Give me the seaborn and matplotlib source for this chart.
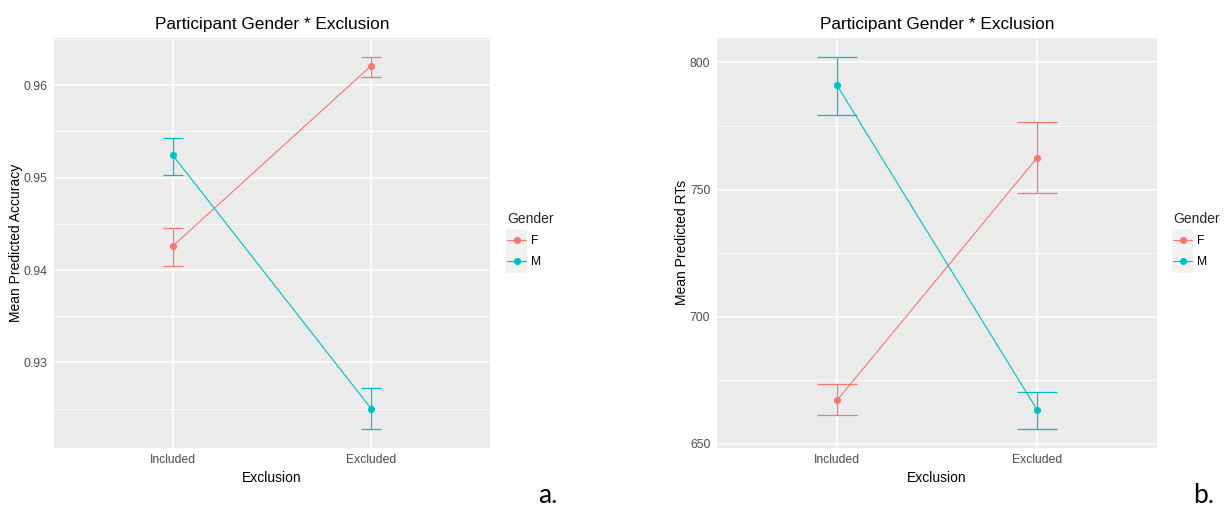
import numpy as np
import pandas as pd
import matplotlib
matplotlib.use("Agg")
import matplotlib.pyplot as plt
from matplotlib.patches import Rectangle
from matplotlib.ticker import FixedLocator
import seaborn as sns

# ---- data ---------------------------------------------------------------
conditions = ["Included", "Excluded"]
genders = ["F", "M"]

acc_F = [0.9426, 0.9621]
acc_F_lo = [0.9404, 0.9609]
acc_F_hi = [0.9446, 0.9631]
acc_M = [0.9524, 0.9250]
acc_M_lo = [0.9503, 0.9228]
acc_M_hi = [0.9543, 0.9272]

rt_F = [667.1, 762.5]
rt_F_lo = [661.2, 748.7]
rt_F_hi = [673.5, 776.5]
rt_M = [791.0, 663.5]
rt_M_lo = [779.2, 655.9]
rt_M_hi = [802.3, 670.6]

acc_ticks = [0.93, 0.94, 0.95, 0.96]
rt_ticks = [650, 700, 750, 800]

title = "Participant Gender * Exclusion"
palette = {"F": "#F8766D", "M": "#00BFC4"}


def frame(f, f_lo, f_hi, m, m_lo, m_hi):
    return pd.DataFrame({
        "Exclusion": conditions * 2,
        "Gender": ["F"] * 2 + ["M"] * 2,
        "value": f + m,
        "lo": f_lo + m_lo,
        "hi": f_hi + m_hi,
    })


acc_df = frame(acc_F, acc_F_lo, acc_F_hi, acc_M, acc_M_lo, acc_M_hi)
rt_df = frame(rt_F, rt_F_lo, rt_F_hi, rt_M, rt_M_lo, rt_M_hi)

# ---- style --------------------------------------------------------------
sns.set_theme(style="darkgrid")
plt.rcParams["font.family"] = ["Liberation Sans", "DejaVu Sans"]
plt.rcParams["axes.facecolor"] = "#EBEBEB"
plt.rcParams["figure.facecolor"] = "white"

W, H = 1224, 511
fig = plt.figure(figsize=(W / 100, H / 100), dpi=100)


def px_axes(x0, x1, y0, y1):
    return fig.add_axes([x0 / W, 1 - y1 / H, (x1 - x0) / W, (y1 - y0) / H])


def draw(ax, df, ylabel, yticks, cap):
    sns.pointplot(data=df, x="Exclusion", y="value", hue="Gender",
                  order=conditions, hue_order=genders, palette=palette,
                  errorbar=None, markers="o", markersize=4.5, linewidth=0.8,
                  ax=ax, legend=True, zorder=3)
    for g in genders:
        sub = df[df["Gender"] == g].set_index("Exclusion").loc[conditions]
        xs = np.arange(len(conditions))
        ax.errorbar(xs, sub["value"],
                    yerr=[sub["value"] - sub["lo"], sub["hi"] - sub["value"]],
                    fmt="none", ecolor=palette[g], elinewidth=0.9,
                    capsize=cap, capthick=0.9, zorder=2)

    lo_all, hi_all = df["lo"].min(), df["hi"].max()
    pad = 0.05 * (hi_all - lo_all)
    ax.set_ylim(lo_all - pad, hi_all + pad)
    ax.set_xlim(-0.6, len(conditions) - 0.4)

    ax.yaxis.set_major_locator(FixedLocator(yticks))
    step = yticks[1] - yticks[0]
    minors = np.arange(yticks[0] - step / 2, yticks[-1] + step, step)
    ax.yaxis.set_minor_locator(FixedLocator(minors))
    ax.grid(True, which="major", color="white", linewidth=1.1)
    ax.grid(True, which="minor", axis="y", color="white", linewidth=0.55)
    ax.set_axisbelow(True)
    for s in ax.spines.values():
        s.set_visible(False)

    ax.tick_params(axis="both", which="major", length=2.8, width=0.8,
                   color="#333333", labelsize=8.7, labelcolor="#4D4D4D", pad=2)
    ax.tick_params(axis="y", which="minor", length=0)
    ax.set_xlabel("Exclusion", fontsize=10, color="black")
    ax.set_ylabel(ylabel, fontsize=10, color="black")
    ax.xaxis.set_label_coords(0.5, -0.058)
    ax.text(0.5, 1.034, title, transform=ax.transAxes, ha="center",
            va="center", fontsize=12.4, color="black")

    handles, labels = ax.get_legend_handles_labels()
    ax.get_legend().remove()
    return handles, labels


ax1 = px_axes(54, 490, 38, 447.5)
h1, l1 = draw(ax1, acc_df, "Mean Predicted Accuracy", acc_ticks, 7.1)
ax1.yaxis.set_label_coords(-0.072, 0.5)

ax2 = px_axes(717, 1157, 38, 447.5)
h2, l2 = draw(ax2, rt_df, "Mean Predicted RTs", rt_ticks, 14.6)
ax2.yaxis.set_label_coords(-0.064, 0.5)


def legend_at(handles, labels, x, y):
    # key backgrounds
    for i in range(len(labels)):
        fig.patches.append(Rectangle(((x - 1) / W, 1 - (251 + 22 * i) / H),
                                     21 / W, 22 / H, transform=fig.transFigure,
                                     facecolor="#F2F2F2", edgecolor="none",
                                     zorder=0))
    leg = fig.legend(handles, labels, title="Gender", loc="upper left",
                     bbox_to_anchor=(x / W, 1 - y / H), frameon=False,
                     fontsize=8.7, title_fontsize=10, handlelength=1.6,
                     handletextpad=0.4, labelspacing=0.75, borderpad=0,
                     borderaxespad=0, alignment="left")
    for t in leg.get_texts():
        t.set_color("black")
    return leg


legend_at(h1, l1, 507, 212)
legend_at(h2, l2, 1173, 212)

fig.text(548 / W, 1 - 495 / H, "a.", fontsize=19, family=["Lato", "DejaVu Sans"],
         ha="center", va="center", color="black")
fig.text(1204 / W, 1 - 495 / H, "b.", fontsize=19, family=["Lato", "DejaVu Sans"],
         ha="center", va="center", color="black")

fig.savefig("out.png", dpi=100)
